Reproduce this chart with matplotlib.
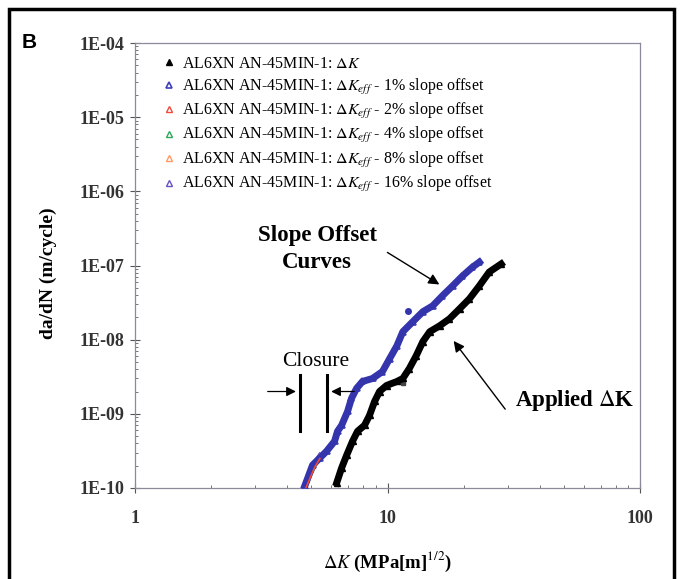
import numpy as np
import matplotlib
matplotlib.use("Agg")
import matplotlib.pyplot as plt
from matplotlib.patches import Rectangle
from matplotlib.ticker import LogLocator, FixedLocator, FixedFormatter

plt.rcParams["font.family"] = ["Liberation Serif", "DejaVu Serif"]
plt.rcParams["mathtext.fontset"] = "stix"

# applied delta K (black)
dk_applied = [6.29, 6.58, 6.89, 7.27, 7.61, 8.11, 8.49, 8.89, 9.30, 9.91, 10.9, 11.5, 12.2,
              13.0, 13.8, 14.7, 16.1, 17.6, 19.3, 21.1, 23.1, 25.3, 28.2]
dadn_applied = [1.17e-10, 1.86e-10, 2.77e-10, 4.27e-10, 5.82e-10, 7.01e-10, 9.55e-10, 1.47e-9,
                2.0e-9, 2.41e-9, 2.73e-9, 3.0e-9, 4.08e-9, 6.1e-9, 9.4e-9, 1.28e-8, 1.54e-8,
                1.91e-8, 2.61e-8, 3.55e-8, 5.31e-8, 8.18e-8, 1.05e-7]

# delta K eff, 1% slope offset (blue)
dk_1pct = [4.70, 5.05, 5.39, 5.74, 6.17, 6.34, 6.58, 6.95, 7.20, 7.54, 7.96, 8.73, 9.55, 10.2,
           10.9, 11.5, 12.6, 13.8, 15.1, 16.5, 18.1, 19.8, 21.7, 23.1]
dadn_1pct = [1.06e-10, 2.04e-10, 2.53e-10, 3.14e-10, 4.27e-10, 5.82e-10, 7.0e-10, 1.08e-9,
             1.61e-9, 2.2e-9, 2.73e-9, 3.0e-9, 3.72e-9, 5.56e-9, 8.3e-9, 1.28e-8, 1.75e-8,
             2.38e-8, 2.86e-8, 3.9e-8, 5.3e-8, 7.2e-8, 9.5e-8, 1.11e-7]

# the other offsets only show near threshold, mostly under the blue
dk_low = [4.75, 4.95, 5.15, 5.40]
dadn_2pct = [1.0e-10, 1.4e-10, 1.9e-10, 2.5e-10]
dadn_4pct = [1.05e-10, 1.5e-10, 2.0e-10, 2.6e-10]
dadn_8pct = [1.1e-10, 1.55e-10, 2.1e-10, 2.7e-10]
dadn_16pct = [1.1e-10, 1.6e-10, 2.2e-10, 2.8e-10]

stray_applied = ([11.5], [2.6e-9])
stray_1pct = ([12.1], [2.4e-8])

label_base = "AL6XN AN-45MIN-1: "
offsets = ["1%", "2%", "4%", "8%", "16%"]
colors = ["#4040b8", "#f04a3a", "#2fa85a", "#ff9a66", "#6a50c0"]

fig = plt.figure(figsize=(6.81, 5.79), dpi=100)
ax = fig.add_axes([135/681, 1-488/579, 505/681, 445/579])

# outer frame of the panel
fig.patches.append(Rectangle((9/681, -0.05), 665/681, 1.05-9/579, transform=fig.transFigure,
                             fill=False, lw=2.5, ec="black"))
fig.text(22/681, 1-42/579, "B", fontsize=15, fontweight="bold", family="Liberation Sans",
         va="center")

# low offsets first so the blue sits on top
for dd, c in zip([dadn_16pct, dadn_8pct, dadn_4pct], [colors[4], colors[3], colors[2]]):
    ax.plot(dk_low, dd, "-", color=c, lw=3, zorder=2)

h_app, = ax.plot(dk_applied, dadn_applied, "^", color="black", ms=5, zorder=4,
                 label=label_base + r"$\Delta K$")
ax.plot(dk_applied, dadn_applied, "-", color="black", lw=5, zorder=4)
ax.plot(*stray_applied, "s", color="#444444", ms=2.5)

h_blue, = ax.plot(dk_1pct, dadn_1pct, "^", mfc="none", mec=colors[0], mew=1.2, ms=5, zorder=3,
                  label=label_base + r"$\Delta K_{eff}$ - 1% slope offset")
ax.plot(dk_1pct, dadn_1pct, "-", color="#3434ac", lw=5, zorder=3)
ax.plot(*stray_1pct, "o", color="#3434ac", ms=4, zorder=3)
ax.plot(dk_low, dadn_2pct, "-", color=colors[1], lw=1.2, zorder=5)

handles = [h_app, h_blue]
for c, p in zip(colors[1:], offsets[1:]):
    h, = ax.plot([], [], "^", mfc="none", mec=c, mew=1.0, ms=5,
                 label=label_base + r"$\Delta K_{eff}$ - " + p + " slope offset")
    handles.append(h)

ax.set_xscale("log")
ax.set_yscale("log")
ax.set_xlim(1, 100)
ax.set_ylim(1e-10, 1e-4)

ax.xaxis.set_major_locator(FixedLocator([1, 10, 100]))
ax.xaxis.set_major_formatter(FixedFormatter(["1", "10", "100"]))
ax.xaxis.set_minor_locator(LogLocator(base=10, subs=np.arange(2, 10)))
ax.xaxis.set_minor_formatter(FixedFormatter([]))
yt = [1e-10, 1e-9, 1e-8, 1e-7, 1e-6, 1e-5, 1e-4]
ax.yaxis.set_major_locator(FixedLocator(yt))
ax.yaxis.set_major_formatter(FixedFormatter(["1E-10", "1E-09", "1E-08", "1E-07",
                                             "1E-06", "1E-05", "1E-04"]))
ax.yaxis.set_minor_locator(LogLocator(base=10, subs=np.arange(2, 10)))
ax.yaxis.set_minor_formatter(FixedFormatter([]))

ax.tick_params(axis="both", which="major", direction="inout", length=7, width=0.8,
               color="#555555", labelsize=13)
ax.tick_params(axis="both", which="minor", direction="in", length=2.5, width=0.7, color="#777777")
ax.tick_params(axis="x", which="major", pad=12)
ax.tick_params(axis="y", which="major", pad=4)
for lab in ax.get_xticklabels() + ax.get_yticklabels():
    lab.set_fontweight("bold")
    lab.set_color("#333333")
for s in ax.spines.values():
    s.set_color("#8a8a9a")
    s.set_linewidth(0.9)

ax.set_xlabel(r"$\Delta K$ (MPa[m]$^{1/2}$)", fontsize=13.5, fontweight="bold")
ax.xaxis.set_label_coords(0.5, -0.14)
ax.set_ylabel("da/dN (m/cycle)", fontsize=14, fontweight="bold")
ax.yaxis.set_label_coords(-0.155, 0.483)

ax.legend(handles=handles, loc="upper left", bbox_to_anchor=(0.045, 0.985), frameon=False,
          fontsize=11.5, handlelength=0.6, handletextpad=0.5, labelspacing=0.28,
          borderaxespad=0)

# annotations
ax.text(5.26, 1.67e-7, "Slope Offset\nCurves", ha="center", va="center", fontsize=16.5,
        fontweight="bold", linespacing=1.35)
ax.annotate("", xy=(16.4, 5.3e-8), xytext=(9.78, 1.57e-7),
            arrowprops=dict(arrowstyle="-|>", color="black", lw=1.0, mutation_scale=16))
ax.text(55.3, 1.52e-9, r"Applied $\Delta$K", ha="center", va="center", fontsize=16.5,
        fontweight="bold")
ax.annotate("", xy=(18.0, 1.03e-8), xytext=(29.7, 1.08e-9),
            arrowprops=dict(arrowstyle="-|>", color="black", lw=1.0, mutation_scale=16))

ax.text(5.21, 5.07e-9, "Closure", ha="center", va="center", fontsize=15.5)
ax.plot([4.50, 4.50], [5.82e-10, 3.29e-9], color="black", lw=2.2)
ax.plot([5.76, 5.76], [5.82e-10, 3.29e-9], color="black", lw=2.2)
ax.annotate("", xy=(4.45, 2.0e-9), xytext=(3.27, 2.0e-9),
            arrowprops=dict(arrowstyle="-|>", color="#55aa55", lw=0.9, mutation_scale=14,
                            fc="black", ec="black"))
ax.annotate("", xy=(5.83, 2.0e-9), xytext=(7.57, 2.0e-9),
            arrowprops=dict(arrowstyle="-|>", color="#cc77aa", lw=0.9, mutation_scale=14,
                            fc="black", ec="black"))

fig.savefig("out.png", dpi=100)
